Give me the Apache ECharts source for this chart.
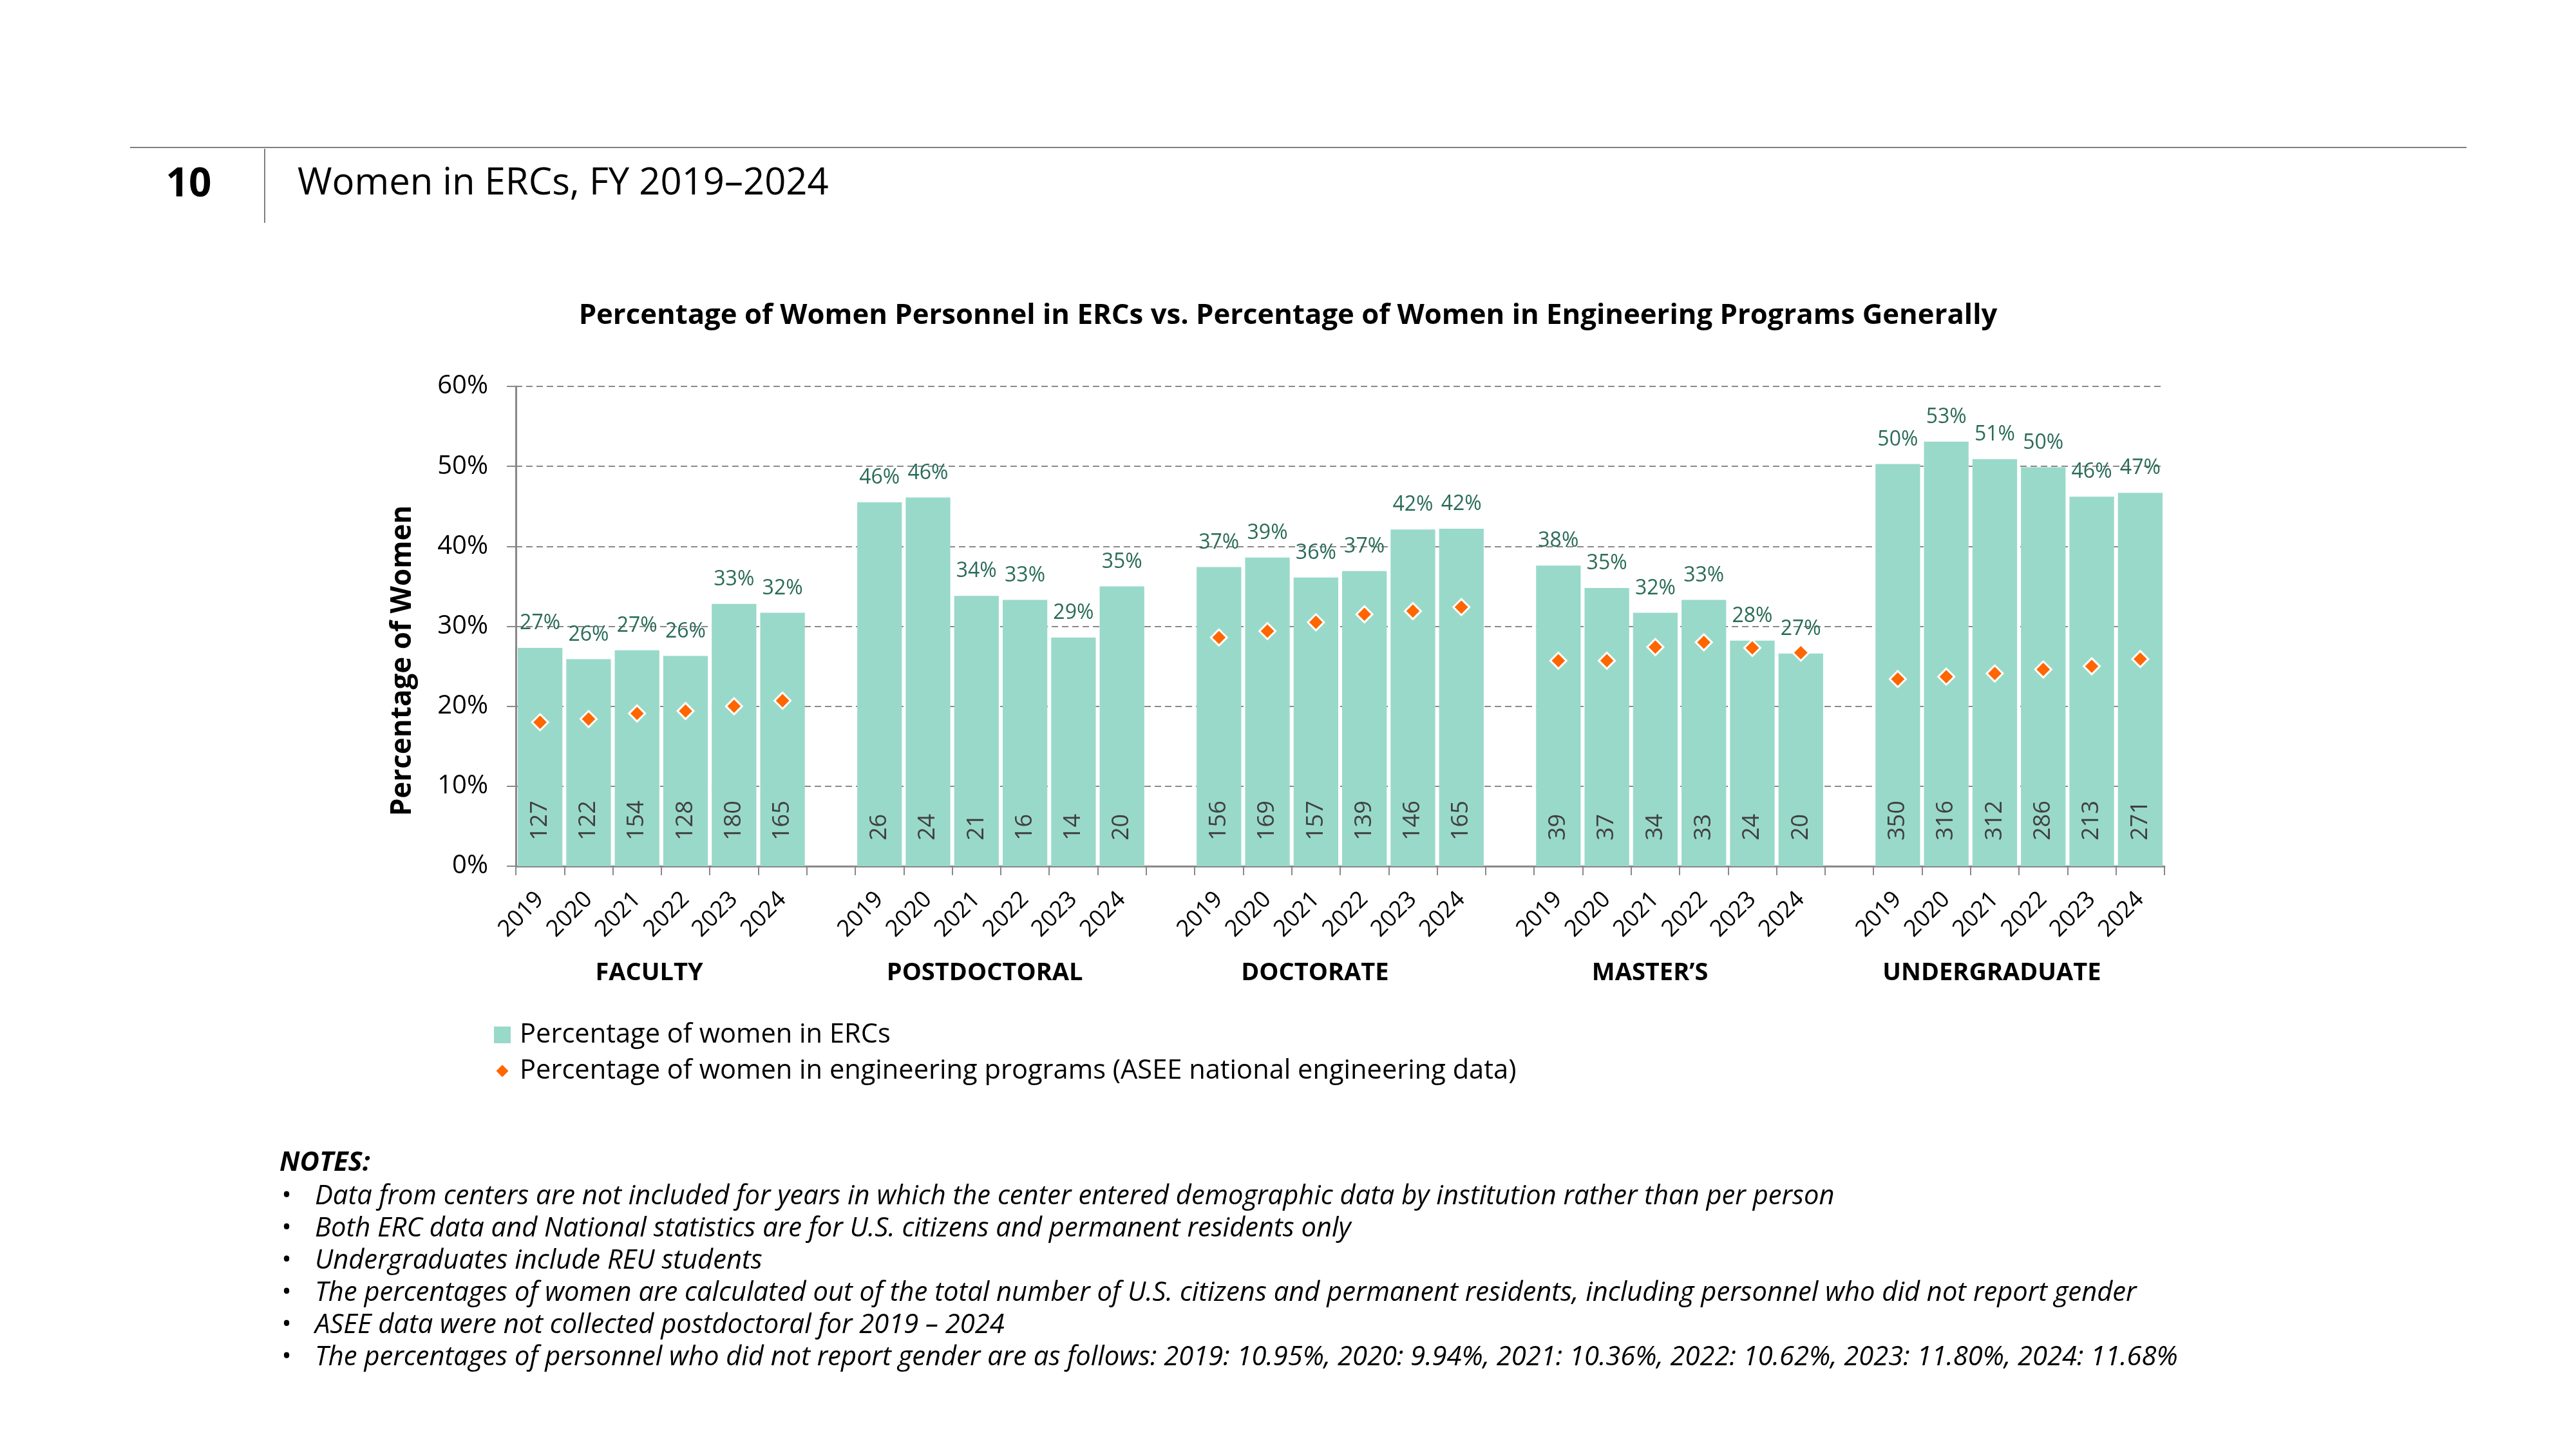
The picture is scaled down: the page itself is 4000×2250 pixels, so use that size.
<!DOCTYPE html>
<html>
<head>
<meta charset="utf-8">
<script src="https://cdn.jsdelivr.net/npm/echarts@6/dist/echarts.min.js"></script>
<style>html,body{margin:0;padding:0;background:#fff;}#c{width:4000px;height:2250px;}</style>
</head>
<body>
<div id="c"></div>
<script>
const groups = ['FACULTY', 'POSTDOCTORAL', 'DOCTORATE', 'MASTER\u2019S', 'UNDERGRADUATE'];
const years = ['2019', '2020', '2021', '2022', '2023', '2024'];
const yTicks = [0, 10, 20, 30, 40, 50, 60];

const ercFaculty    = [27.3, 25.9, 27.0, 26.3, 32.8, 31.7];
const ercPostdoc    = [45.5, 46.1, 33.8, 33.3, 28.6, 35.0];
const ercDoctorate  = [37.4, 38.6, 36.1, 36.9, 42.1, 42.2];
const ercMasters    = [37.6, 34.8, 31.7, 33.3, 28.2, 26.6];
const ercUndergrad  = [50.3, 53.1, 50.9, 49.9, 46.2, 46.7];

const aseeFaculty   = [18.0, 18.4, 19.1, 19.4, 20.0, 20.7];
const aseePostdoc   = [null, null, null, null, null, null];
const aseeDoctorate = [28.6, 29.4, 30.5, 31.5, 31.9, 32.4];
const aseeMasters   = [25.7, 25.7, 27.4, 28.0, 27.3, 26.7];
const aseeUndergrad = [23.4, 23.7, 24.1, 24.6, 25.0, 25.9];

const cntFaculty    = [127, 122, 154, 128, 180, 165];
const cntPostdoc    = [26, 24, 21, 16, 14, 20];
const cntDoctorate  = [156, 169, 157, 139, 146, 165];
const cntMasters    = [39, 37, 34, 33, 24, 20];
const cntUndergrad  = [350, 316, 312, 286, 213, 271];

const notes = [
  'Data from centers are not included for years in which the center entered demographic data by institution rather than per person',
  'Both ERC data and National statistics are for U.S. citizens and permanent residents only',
  'Undergraduates include REU students',
  'The percentages of women are calculated out of the total number of U.S. citizens and permanent residents, including personnel who did not report gender',
  'ASEE data were not collected postdoctoral for 2019 \u2013 2024',
  'The percentages of personnel who did not report gender are as follows: 2019: 10.95%, 2020: 9.94%, 2021: 10.36%, 2022: 10.62%, 2023: 11.80%, 2024: 11.68%'
];

const ercAll = [ercFaculty, ercPostdoc, ercDoctorate, ercMasters, ercUndergrad];
const aseeAll = [aseeFaculty, aseePostdoc, aseeDoctorate, aseeMasters, aseeUndergrad];
const cntAll = [cntFaculty, cntPostdoc, cntDoctorate, cntMasters, cntUndergrad];

const cats = [], erc = [], asee = [], cnt = [];
ercAll.forEach((g, gi) => {
  if (gi > 0) { cats.push(' ' + gi); erc.push(null); asee.push(null); cnt.push(null); }
  g.forEach((v, i) => {
    cats.push(years[i]); erc.push(v); asee.push(aseeAll[gi][i]); cnt.push(cntAll[gi][i]);
  });
});
// layout: horizontal placement of the group captions (in category units along the axis)
const groupLabelPos = [2.75, 9.67, 16.48, 23.39, 30.44];

const FONT = '"Open Sans", "Noto Sans", sans-serif';
const BAR = '#99d9ca';
const ORANGE = '#ff6600';
const GRID = { left: 801, right: 639, top: 600, bottom: 905 };

const graphics = [
  { type: 'line', shape: { x1: 202, y1: 229, x2: 3830, y2: 229 }, style: { stroke: '#7f7f7f', lineWidth: 2 } },
  { type: 'line', shape: { x1: 411, y1: 231, x2: 411, y2: 346 }, style: { stroke: '#7f7f7f', lineWidth: 2 } },
  { type: 'text', x: 293, y: 287, style: { text: '10', font: 'bold 62px ' + FONT, fill: '#000', align: 'center', verticalAlign: 'middle' } },
  { type: 'text', x: 462, y: 285, style: { text: 'Women in ERCs, FY 2019\u20132024', font: '58px ' + FONT, fill: '#000', align: 'left', verticalAlign: 'middle' } },
  { type: 'text', x: 625, y: 1026, rotation: Math.PI / 2, style: { text: 'Percentage of Women', font: 'bold 44px ' + FONT, fill: '#000', align: 'center', verticalAlign: 'middle' } },
  { type: 'text', x: 434, y: 1806, style: { text: 'NOTES:', font: 'italic bold 41.7px ' + FONT, fill: '#000', align: 'left', verticalAlign: 'middle' } }
];
notes.forEach((n, i) => {
  const y = 1858 + i * 50;
  graphics.push({ type: 'text', x: 445, y: y, style: { text: '\u2022', font: '40px ' + FONT, fill: '#000', align: 'center', verticalAlign: 'middle' } });
  graphics.push({ type: 'text', x: 489, y: y, style: { text: n, font: 'italic 41.7px ' + FONT, fill: '#000', align: 'left', verticalAlign: 'middle' } });
});

const chart = echarts.init(document.getElementById('c'), null, { renderer: 'canvas' });
chart.setOption({
  backgroundColor: '#fff',
  animation: false,
  textStyle: { fontFamily: FONT },
  title: {
    text: 'Percentage of Women Personnel in ERCs vs. Percentage of Women in Engineering Programs Generally',
    left: 'center', top: 464,
    textStyle: { fontFamily: FONT, fontSize: 43.7, fontWeight: 'bold', color: '#000' }
  },
  legend: {
    orient: 'vertical', left: 762, top: 1581, itemWidth: 26, itemHeight: 26, itemGap: 14,
    textStyle: { fontFamily: FONT, fontSize: 41.6, color: '#000', padding: [0, 0, 0, 9] },
    data: [
      { name: 'Percentage of women in ERCs', icon: 'rect' },
      { name: 'Percentage of women in engineering programs (ASEE national engineering data)',
        icon: 'path://M0,0ZM26,26ZM13,3.5L22.5,13L13,22.5L3.5,13Z', itemStyle: { borderWidth: 0 } }
    ]
  },
  grid: GRID,
  xAxis: [
    {
      type: 'category', data: cats, boundaryGap: true,
      axisLine: { lineStyle: { color: '#888', width: 3 } },
      axisTick: { show: true, interval: 0, length: 14, lineStyle: { color: '#888', width: 2 } },
      axisLabel: {
        interval: 0, rotate: 45, margin: 46, fontSize: 36, color: '#000', fontFamily: FONT,
        formatter: v => (/^ \d$/.test(v)) ? '' : v
      },
      splitLine: { show: false }
    },
    {
      type: 'value', min: 0, max: cats.length, position: 'bottom',
      axisLine: { show: false }, axisTick: { show: false }, splitLine: { show: false },
      axisLabel: {
        customValues: groupLabelPos, margin: 147, fontSize: 38, fontWeight: 'bold', color: '#000', fontFamily: FONT,
        formatter: v => { const i = groupLabelPos.findIndex(p => Math.abs(p - v) < 0.01); return i >= 0 ? groups[i] : ''; }
      }
    }
  ],
  yAxis: {
    type: 'value', min: 0, max: 60, interval: 10,
    axisLine: { show: true, lineStyle: { color: '#888', width: 3 } },
    axisTick: { show: true, length: 14, lineStyle: { color: '#888', width: 2 } },
    axisLabel: { formatter: v => yTicks.includes(v) ? v + '%' : '', fontSize: 40, color: '#000', margin: 43, fontFamily: FONT },
    splitLine: { show: true, lineStyle: { color: '#8a8a8a', width: 2, type: [10, 6] } }
  },
  series: [
    {
      name: 'Percentage of women in ERCs', type: 'bar', data: erc, barCategoryGap: '8%', barGap: '-100%',
      itemStyle: { color: BAR },
      label: {
        show: true, position: 'top', distance: 22, fontSize: 32, color: '#2a6b58', fontFamily: FONT,
        formatter: p => p.value == null ? '' : Math.round(p.value) + '%'
      },
      z: 2
    },
    {
      name: 'counts', type: 'bar', data: erc, barCategoryGap: '8%', barGap: '-100%',
      itemStyle: { color: 'rgba(0,0,0,0)' }, silent: true, legendHoverLink: false,
      label: {
        show: true, position: 'insideBottom', rotate: 90, align: 'left', verticalAlign: 'middle', distance: 30,
        offset: [10, 0], fontSize: 36, color: '#404040', fontFamily: FONT,
        formatter: p => cnt[p.dataIndex] == null ? '' : String(cnt[p.dataIndex])
      },
      z: 3
    },
    {
      name: 'Percentage of women in engineering programs (ASEE national engineering data)', type: 'scatter', data: asee,
      symbol: 'diamond', symbolSize: 25,
      itemStyle: { color: ORANGE, borderColor: '#fff', borderWidth: 3, opacity: 1 },
      z: 5
    }
  ],
  graphic: graphics
});
</script>
</body>
</html>
